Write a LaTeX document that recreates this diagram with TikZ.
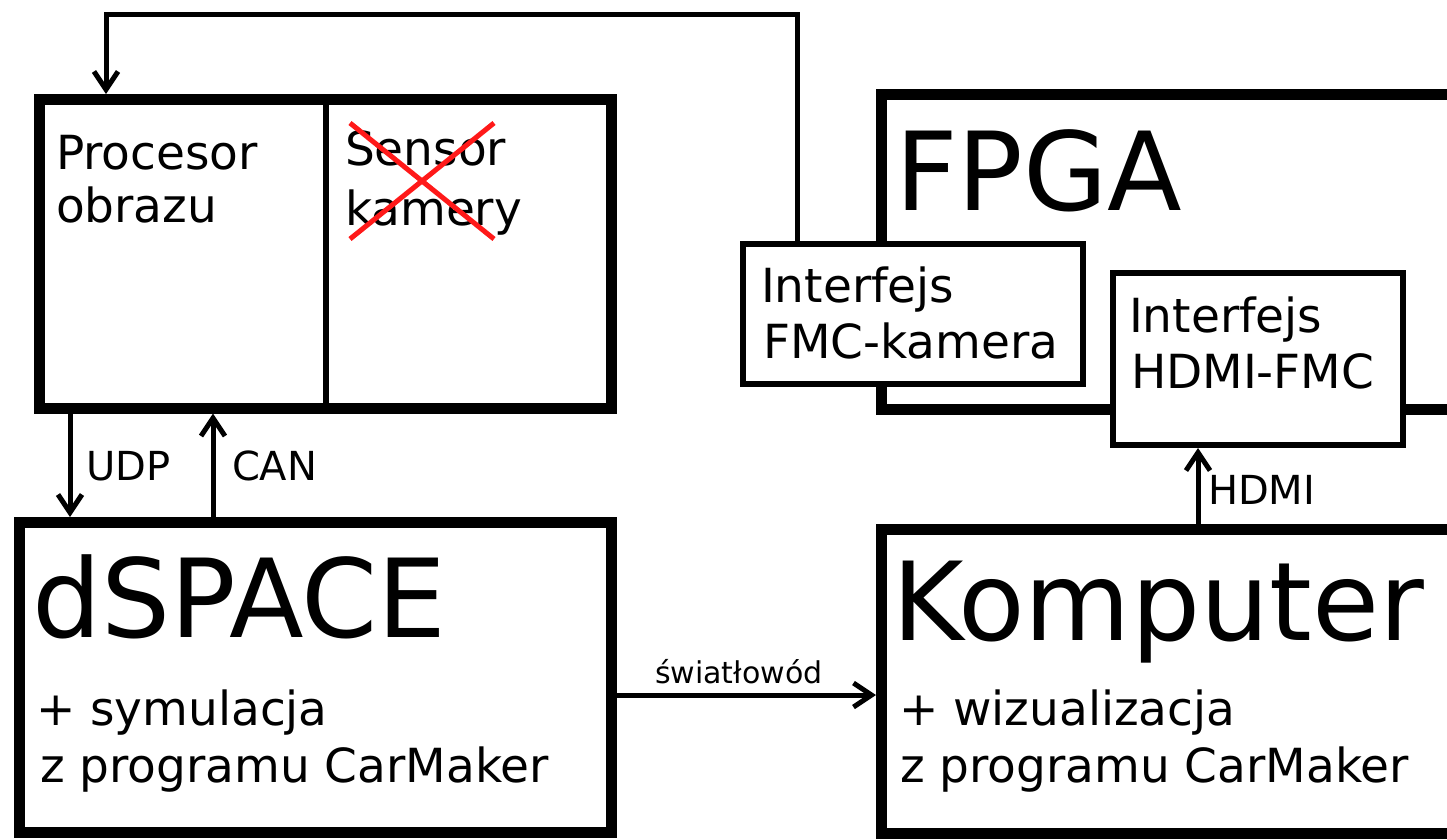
\documentclass[tikz,border=0pt]{standalone}
\usepackage{fontspec}
\setmainfont{DejaVu Sans}
\usetikzlibrary{arrows.meta}
\begin{document}
\begin{tikzpicture}[x=1pt,y=-1pt,
  thickbox/.style={draw, rectangle, line width=11pt, inner sep=0pt, fill=white},
  thinbox/.style={draw, rectangle, line width=6pt, inner sep=0pt, fill=white},
  txt/.style={anchor=base west, inner sep=0pt, outer sep=0pt},
  bigtxt/.style={txt, font=\fontsize{109}{120}\selectfont},
  midtxt/.style={txt, font=\fontsize{47}{54}\selectfont},
  lbltxt/.style={txt, font=\fontsize{40}{44}\selectfont},
  smalltxt/.style={txt, font=\fontsize{30}{36}\selectfont},
  conn/.style={line width=5pt, line join=miter, -{Straight Barb[length=18pt,width=24pt]}},
  cross/.style={line width=5pt, draw=red!90!white}
]
\useasboundingbox (0,0) rectangle (1447,839);
\clip (0,0) rectangle (1447,839);

% boxes
\node[thickbox, minimum width=572pt, minimum height=308.5pt] (proc) at (325.5,253.75) {};
\node[thickbox, minimum width=592pt, minimum height=310pt] (dspace) at (315.5,677.5) {};
\node[thickbox, minimum width=588.5pt, minimum height=315pt] (fpga) at (1175.75,252) {};
\node[thickbox, minimum width=588.5pt, minimum height=303.5pt] (komp) at (1175.75,681.25) {};
\node[thinbox, minimum width=340pt, minimum height=140.5pt] (fmc) at (913,313.75) {};
\node[thinbox, minimum width=289.5pt, minimum height=172pt] (hdmi) at (1257.75,359) {};

% divider inside the image processor box
\coordinate (divx) at (326,0);
\draw[line width=6pt] (proc.north -| divx) -- (proc.south -| divx);

% texts
\node[midtxt] (t1) at (56,169) {Procesor};
\node[midtxt] (t2) at (56,222) {obrazu};
\node[midtxt] (t3) at (345,165) {Sensor};
\node[midtxt] (t4) at (345,225) {kamery};
\draw[cross] (350,123) -- (494,239);
\draw[cross] (350,239) -- (494,123);

\node[bigtxt] (t5) at (895,210) {FPGA};
\node[midtxt] (t6) at (761,302) {Interfejs};
\node[midtxt] (t7) at (763,358) {FMC-kamera};
\node[midtxt] (t8) at (1129,332) {Interfejs};
\node[midtxt] (t9) at (1131,388) {HDMI-FMC};

\node[bigtxt] (t10) at (32,637) {dSPACE};
\node[midtxt] (t11) at (36,725) {+ symulacja};
\node[midtxt] (t12) at (40,782) {z programu CarMaker};

\node[bigtxt] (t13) at (892,640) {Komputer};
\node[midtxt] (t14) at (899,725) {+ wizualizacja};
\node[midtxt] (t15) at (900,782) {z programu CarMaker};

% connectors
\coordinate (udpx) at (70,0);
\coordinate (canx) at (213,0);
\coordinate (hdmix) at (1198,0);
\coordinate (fibery) at (0,695);
\coordinate (topr) at (797,14);
\coordinate (topl) at (106,14);

\draw[conn] (proc.south -| udpx) -- (dspace.north -| udpx);
\draw[conn] (dspace.north -| canx) -- (proc.south -| canx);
\draw[conn] (komp.north -| hdmix) -- (hdmi.south -| hdmix);
\draw[conn] (dspace.east |- fibery) -- (komp.west |- fibery);
\draw[conn] (fmc.north -| topr) |- (topl) -- (proc.north -| topl);

\node[lbltxt] (l1) at (86,480) {UDP};
\node[lbltxt] (l2) at (232,480) {CAN};
\node[lbltxt] (l3) at (1208,504) {HDMI};
\node[smalltxt] (l4) at (655,683) {światłowód};
\end{tikzpicture}
\end{document}
